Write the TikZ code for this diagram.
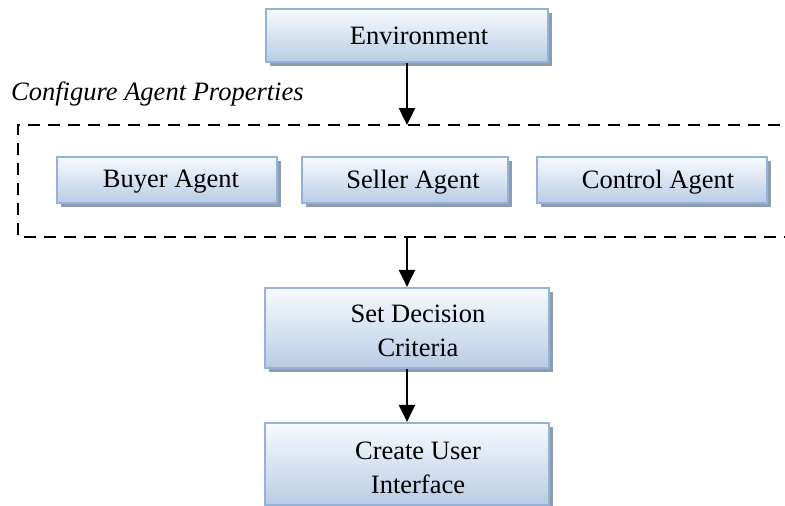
\documentclass[tikz,border=0pt]{standalone}
\usepackage{fontspec}
\setmainfont{Liberation Serif}
\usetikzlibrary{arrows.meta,shadows}
\definecolor{boxedge}{HTML}{95B3D7}
\definecolor{boxtop}{HTML}{F8FAFD}
\definecolor{boxbottom}{HTML}{B8CCE4}
\definecolor{boxshade}{HTML}{8E9CB2}
\tikzset{
  flowbox/.style={draw=boxedge, line width=2.2pt, top color=boxtop, bottom color=boxbottom,
    inner sep=0pt, drop shadow={shadow xshift=4pt, shadow yshift=-4pt, fill=boxshade, opacity=1}},
  boxtext/.style={font=\fontsize{26.5}{34}\selectfont, align=center, inner sep=0pt},
  flowarrow/.style={line width=2.4pt, -{Triangle[length=17pt, width=16pt]}},
  groupline/.style={line width=2pt, dash pattern=on 12pt off 8pt}
}
\begin{document}
\begin{tikzpicture}[x=1pt, y=-1pt]
  \useasboundingbox (0,0) rectangle (785,506);
  \clip (0,0) rectangle (785,506);

  % top box
  \node[flowbox, minimum width=282pt, minimum height=53pt] (env) at (407,35.5) {};
  \node[boxtext] (envtxt) at ([xshift=12pt]env.center) {Environment};

  % group of agents, open on the right side
  \coordinate (gtr) at (800,125);
  \coordinate (gtl) at (18,125);
  \coordinate (gbl) at (18,237);
  \coordinate (gbr) at (800,237);
  \coordinate (gin) at (407,125);
  \coordinate (gout) at (407,237);
  \draw[groupline] (gtr) -- (gtl) -- (gbl) -- (gbr);
  \node[font=\fontsize{26.5}{34}\selectfont\itshape, anchor=base west, inner sep=0pt]
    (grouptitle) at (11,100) {Configure Agent Properties};

  \node[flowbox, minimum width=220pt, minimum height=46pt] (buyer) at (167,180) {};
  \node[boxtext] at ([xshift=4pt,yshift=-2pt]buyer.center) {Buyer Agent};
  \node[flowbox, minimum width=206pt, minimum height=46pt] (seller) at (405,180) {};
  \node[boxtext] at ([xshift=8pt,yshift=-2pt]seller.center) {Seller Agent};
  \node[flowbox, minimum width=230pt, minimum height=46pt] (control) at (652,180) {};
  \node[boxtext] at ([xshift=6pt,yshift=-2pt]control.center) {Control Agent};

  % lower boxes
  \node[flowbox, minimum width=284pt, minimum height=80pt] (crit) at (407,328) {};
  \node[boxtext] at ([xshift=11pt,yshift=-3pt]crit.center) {Set Decision\\Criteria};
  \node[flowbox, minimum width=284pt, minimum height=82pt] (ui) at (407,464) {};
  \node[boxtext] at ([xshift=11pt,yshift=-4pt]ui.center) {Create User\\Interface};

  % connectors
  \draw[flowarrow] (env.south) -- (gin);
  \draw[flowarrow] (gout) -- (crit.north);
  \draw[flowarrow] (crit.south) -- (ui.north);
\end{tikzpicture}
\end{document}
